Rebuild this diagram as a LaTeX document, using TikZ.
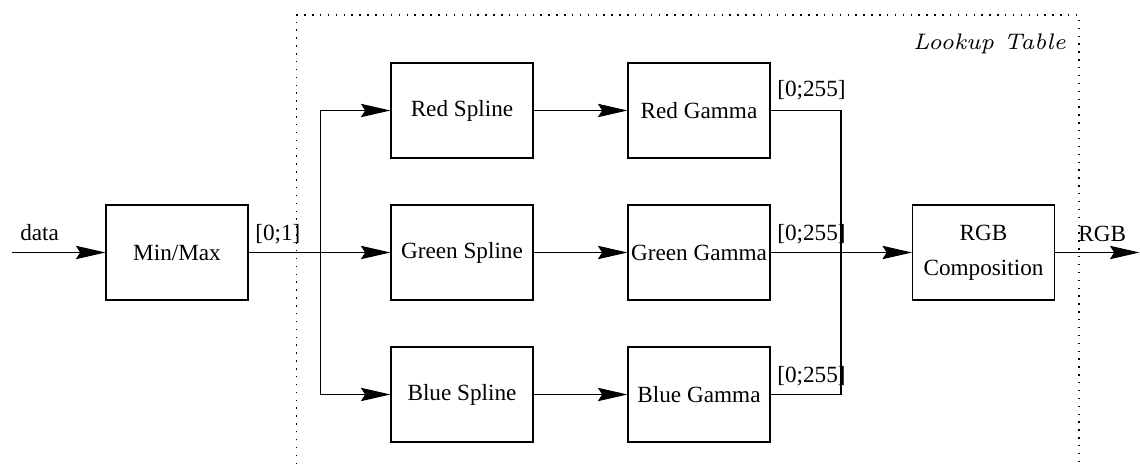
\documentclass[tikz,border=0pt]{standalone}
\usepackage{fontspec}
\newfontfamily\tnr{Liberation Serif}
\newfontfamily\lmit{lmroman7-italic.otf}
\usetikzlibrary{arrows.meta}
\begin{document}
\begin{tikzpicture}[x=0.025cm,y=-0.025cm,
  block/.style={draw,line width=0.75pt,minimum width=3.55cm,minimum height=2.375cm,
    inner sep=0pt,font=\tnr\fontsize{16.5}{24.8}\selectfont,align=center},
  lbl/.style={inner sep=0pt,anchor=base west,font=\tnr\fontsize{16.5}{20}\selectfont},
  wire/.style={line width=0.75pt},
  flow/.style={wire,-{Stealth[length=21pt,width=9.5pt,inset=3pt]}},
  frame/.style={line width=0.9pt,dash pattern=on 1pt off 4.6pt}]
\useasboundingbox (0,0) rectangle (1140,464);

% lookup table frame, open at the bottom
\draw[frame] (296.5,464) -- (296.5,15) -- (1079,15) -- (1079,464);
\node[inner sep=0pt,anchor=base east,font=\lmit\fontsize{16}{19}\selectfont] (lut) at (1066,49.5) {Lookup Table};

% blocks
\node[block] (mm) at (177,252.5) {Min/Max};
\node[block] (rs) at (462,110.5) {Red Spline};
\node[block] (gs) at (462,252.5) {Green Spline};
\node[block] (bs) at (462,394.5) {Blue Spline};
\node[block] (rg) at (699,110.5) {Red Gamma};
\node[block] (gg) at (699,252.5) {Green Gamma};
\node[block] (bg) at (699,394.5) {Blue Gamma};
\node[block] (rgb) at (983.5,252.5) {RGB\\Composition};

% wiring points
\coordinate (in) at (12,252.5);
\coordinate (out) at (1139.5,252.5);
\coordinate (split) at (320.7,252.5);
\coordinate (merge) at (841,252.5);

% input and fan-out
\draw[flow] (in) -- (mm.west);
\draw[flow] (mm.east) -- (gs.west);
\draw[flow] (split) |- (rs.west);
\draw[flow] (split) |- (bs.west);

% spline to gamma
\draw[flow] (rs.east) -- (rg.west);
\draw[flow] (gs.east) -- (gg.west);
\draw[flow] (bs.east) -- (bg.west);

% merge into composition
\draw[wire] (rg.east) -| (merge);
\draw[wire] (bg.east) -| (merge);
\draw[flow] (gg.east) -- (rgb.west);
\draw[flow] (rgb.east) -- (out);

% signal labels
\node[lbl] (ldata) at (20,241) {data};
\node[lbl] (l01) at (255,241) {[0;1]};
\node[lbl] (lr) at (777,97) {[0;255]};
\node[lbl] (lg) at (777,241) {[0;255]};
\node[lbl] (lb) at (777,383) {[0;255]};
\node[lbl] (lrgb) at (1078,241.5) {RGB};
\end{tikzpicture}
\end{document}
